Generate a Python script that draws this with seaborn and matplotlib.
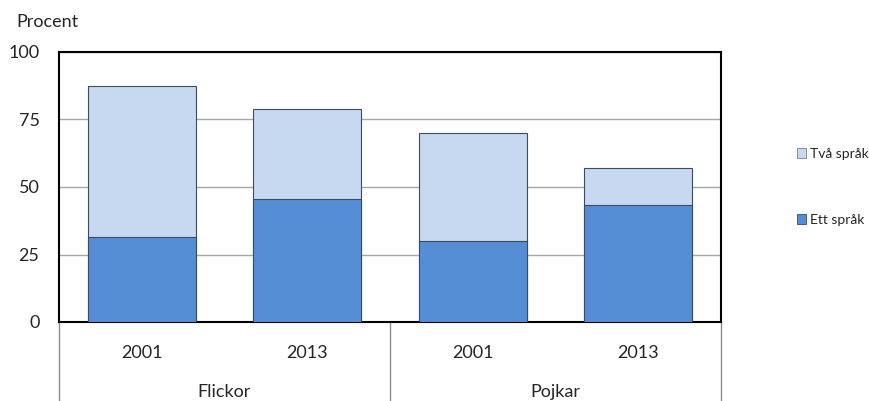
import matplotlib
matplotlib.use("Agg")
import matplotlib.pyplot as plt
import matplotlib.transforms as mtransforms
from matplotlib.patches import Patch
import seaborn as sns
import pandas as pd

groups = ["Flickor", "Flickor", "Pojkar", "Pojkar"]
years = ["2001", "2013", "2001", "2013"]
ett_sprak = [31.5, 45.6, 30.0, 43.4]
tva_sprak = [55.9, 33.3, 40.0, 13.6]
y_ticks = [0, 25, 50, 75, 100]

light = "#C6D9F1"
dark = "#558ED5"
edge = "#3F4A5A"

sns.set_theme(style="white")
plt.rcParams['font.family'] = ['Lato', 'DejaVu Sans']

keys = [f"{g} {y}" for g, y in zip(groups, years)]
df = pd.DataFrame({
    "key": keys,
    "ett": ett_sprak,
    "total": [a + b for a, b in zip(ett_sprak, tva_sprak)],
})

fig = plt.figure(figsize=(8.69, 4.01), dpi=100)
ax = fig.add_axes([59/869, 79/401, 662/869, 270/401])

sns.barplot(data=df, x="key", y="total", color=light, width=0.65,
            edgecolor=edge, linewidth=0.8, saturation=1, ax=ax, zorder=3)
sns.barplot(data=df, x="key", y="ett", color=dark, width=0.65,
            edgecolor=edge, linewidth=0.8, saturation=1, ax=ax, zorder=4)

FS = 13
ax.set_ylim(0, 100)
ax.set_xlim(-0.5, 3.5)
ax.set_yticks(y_ticks)
ax.set_yticklabels([str(t) for t in y_ticks], fontsize=FS)
ax.yaxis.grid(True, color="#A6A6A6", linewidth=1, zorder=0)
ax.set_axisbelow(True)
ax.tick_params(axis="y", length=0, pad=14)
ax.set_xlabel("")
ax.set_ylabel("")
ax.set_xticks([])
for s in ax.spines.values():
    s.set_color("black")
    s.set_linewidth(1.5)

trans = mtransforms.blended_transform_factory(ax.transData, ax.transAxes)
axh = 270.0
for xs in [-0.5, 1.5, 3.5]:
    ax.plot([xs, xs], [0, -79/axh], transform=trans, color="#8C8C8C",
            linewidth=1, clip_on=False)
for i, y in enumerate(years):
    ax.text(i, -36/axh, y, transform=trans, ha="center", va="baseline",
            fontsize=FS)
group_names = []
for g in groups:
    if g not in group_names:
        group_names.append(g)
for j, g in enumerate(group_names):
    ax.text(2*j + 0.5, -75/axh, g, transform=trans, ha="center",
            va="baseline", fontsize=FS)

fig.text(16/869, 1 - 27/401, "Procent", ha="left", va="baseline", fontsize=FS)

handles = [Patch(facecolor=light, edgecolor="#7F7F7F", linewidth=0.6, label="Två språk"),
           Patch(facecolor=dark, edgecolor="#3F4A5A", linewidth=0.6, label="Ett språk")]
fig.legend(handles=handles, loc="center left",
           bbox_to_anchor=(791/869, 1 - 187/401), frameon=False,
           fontsize=10, labelspacing=3.9, handlelength=0.7, handleheight=0.7,
           handletextpad=0.25, borderaxespad=0)

fig.savefig("out.png", dpi=100)
